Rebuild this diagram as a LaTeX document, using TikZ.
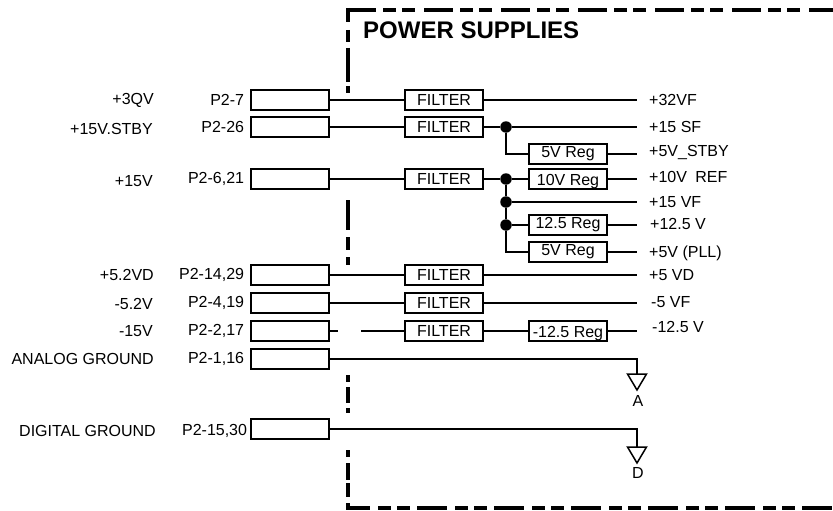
\documentclass[tikz,border=0pt]{standalone}
\usepackage{fontspec}
\setmainfont{Liberation Sans}
\usetikzlibrary{positioning}

\begin{document}
\begin{tikzpicture}[
    x=1pt, y=-1pt,
    node distance=6pt,
    box/.style={rectangle, draw, line width=1.5pt, inner sep=0pt, minimum width=78pt, minimum height=20pt, align=center, font=\fontsize{16}{18}\selectfont},
    capbox/.style={box, text height=12pt, text depth=0pt},
    lbl/.style={inner sep=0pt, font=\fontsize{16}{18}\selectfont},
    wire/.style={line width=1.5pt},
    border/.style={line width=4pt},
    dot/.style={circle, fill=black, inner sep=0pt, minimum size=11.5pt}
  ]
    \useasboundingbox (0,0) rectangle (833,511);

    % frame
    \draw[border, dash pattern=on 29pt off 7pt on 13pt off 6pt on 13pt off 9pt] (347,10) -- (833,10);
    \draw[border, dash pattern=on 30pt off 8pt on 13pt off 6pt on 13pt off 7pt, dash phase=7pt] (347,508) -- (833,508);
    \foreach \ya/\yb in {8/22, 30/42, 48/82, 86/93, 200/230, 237/250, 257/265, 375/382, 387/403, 408/413, 450/457, 463/480, 483/497, 503/510}
      \draw[border] (348,\ya) -- (348,\yb);
    \node[anchor=west, inner sep=0pt, font=\fontsize{24}{26}\selectfont\bfseries] (title) at (363,30) {POWER SUPPLIES};

    % connector blocks
    \node[box] (p7) at (290,100) {};
    \node[box] (p26) at (290,127) {};
    \node[box] (p621) at (290,179) {};
    \node[box] (p1429) at (290,275) {};
    \node[box] (p419) at (290,303) {};
    \node[box] (p217) at (290,331) {};
    \node[box] (p116) at (290,359) {};
    \node[box] (p1530) at (290,429) {};

    \node[lbl, left=of p7] (pin7) {P2-7};
    \node[lbl, left=of p26] (pin26) {P2-26};
    \node[lbl, left=of p621] (pin621) {P2-6,21};
    \node[lbl, left=of p1429] (pin1429) {P2-14,29};
    \node[lbl, left=of p419] (pin419) {P2-4,19};
    \node[lbl, left=of p217] (pin217) {P2-2,17};
    \node[lbl, left=of p116] (pin116) {P2-1,16};
    \node[lbl, left=3pt of p1530, yshift=-2pt] (pin1530) {P2-15,30};

    \node[lbl, anchor=east] (v30) at (154,100) {+3QV};
    \node[lbl, anchor=east] (v15s) at (153,129) {+15V.STBY};
    \node[lbl, anchor=east] (v15) at (153,181) {+15V};
    \node[lbl, anchor=east] (v52d) at (154,275) {+5.2VD};
    \node[lbl, anchor=east] (v52) at (153,304) {-5.2V};
    \node[lbl, anchor=east] (v15n) at (153,331) {-15V};
    \node[lbl, anchor=east] (agnd) at (154,359) {ANALOG GROUND};
    \node[lbl, anchor=east] (dgnd) at (156,431) {DIGITAL GROUND};

    % filters
    \node[box] (f1) at (444,100) {FILTER};
    \node[box] (f2) at (444,127) {\raisebox{1pt}{FILTER}};
    \node[box] (f3) at (444,179) {FILTER};
    \node[box] (f4) at (444,275) {FILTER};
    \node[box] (f5) at (444,303) {FILTER};
    \node[box] (f6) at (444,331) {FILTER};

    % regulators
    \node[box] (r5s) at (568,154) {5V Reg};
    \node[capbox] (r10) at (568,179) {10V Reg};
    \node[box] (r125) at (568,225) {12.5 Reg};
    \node[box] (r5p) at (568,252) {5V Reg};
    \node[capbox] (r125n) at (568,331) {-12.5 Reg};

    % junctions
    \node[dot] (j1) at (506,127) {};
    \node[dot] (j2) at (506,179) {};
    \node[dot] (j3) at (506,202) {};
    \node[dot] (j4) at (506,225) {};

    % outputs
    \node[lbl, anchor=west] (o32) at (649,100) {+32VF};
    \node[lbl, anchor=west] (o15s) at (649,127) {+15 SF};
    \node[lbl, anchor=west] (o5s) at (649,153) {+5V\_STBY};
    \node[lbl, anchor=west] (o10) at (649,177) {+10V\hspace{4pt} REF};
    \node[lbl, anchor=west] (o15) at (649,202) {+15 VF};
    \node[lbl, anchor=west] (o125) at (650,224) {+12.5 V};
    \node[lbl, anchor=west] (o5p) at (649,253) {+5V (PLL)};
    \node[lbl, anchor=west] (o5d) at (649,275) {+5 VD};
    \node[lbl, anchor=west] (o5n) at (651,302) {-5 VF};
    \node[lbl, anchor=west] (o125n) at (652,327) {-12.5 V};

    \coordinate (e1) at (637,100);
    \coordinate (e2) at (637,127);
    \coordinate (e3) at (637,154);
    \coordinate (e4) at (637,179);
    \coordinate (e5) at (637,202);
    \coordinate (e6) at (637,225);
    \coordinate (e7) at (637,252);
    \coordinate (e8) at (637,275);
    \coordinate (e9) at (637,303);
    \coordinate (e10) at (637,331);
    \coordinate (stub) at (338,331);
    \coordinate (stubb) at (361,331);
    \coordinate (gndA) at (637,374);
    \coordinate (gndD) at (637,447);

    \draw[wire] (p7) -- (f1);
    \draw[wire] (p26) -- (f2);
    \draw[wire] (p621) -- (f3);
    \draw[wire] (p1429) -- (f4);
    \draw[wire] (p419) -- (f5);
    \draw[wire] (p217) -- (stub);
    \draw[wire] (stubb) -- (f6);

    \draw[wire] (f1) -- (e1);
    \draw[wire] (f2) -- (j1);
    \draw[wire] (j1) -- (e2);
    \draw[wire] (j1) |- (r5s);
    \draw[wire] (r5s) -- (e3);
    \draw[wire] (f3) -- (j2);
    \draw[wire] (j2) -- (r10);
    \draw[wire] (r10) -- (e4);
    \draw[wire] (j2) -- (j3);
    \draw[wire] (j3) -- (e5);
    \draw[wire] (j3) -- (j4);
    \draw[wire] (j4) -- (r125);
    \draw[wire] (r125) -- (e6);
    \draw[wire] (j4) |- (r5p);
    \draw[wire] (r5p) -- (e7);
    \draw[wire] (f4) -- (e8);
    \draw[wire] (f5) -- (e9);
    \draw[wire] (f6) -- (r125n);
    \draw[wire] (r125n) -- (e10);

    % grounds
    \draw[wire] (p116) -| (gndA);
    \draw[wire] (p1530) -| (gndD);
    \draw[wire] (gndA) +(-9.5,0) -- +(9.5,0) -- +(0,16) -- cycle;
    \draw[wire] (gndD) +(-9.5,0) -- +(9.5,0) -- +(0,16) -- cycle;
    \node[lbl] (la) at (638,401) {A};
    \node[lbl] (ld) at (638,473) {D};
  \end{tikzpicture}
\end{document}
